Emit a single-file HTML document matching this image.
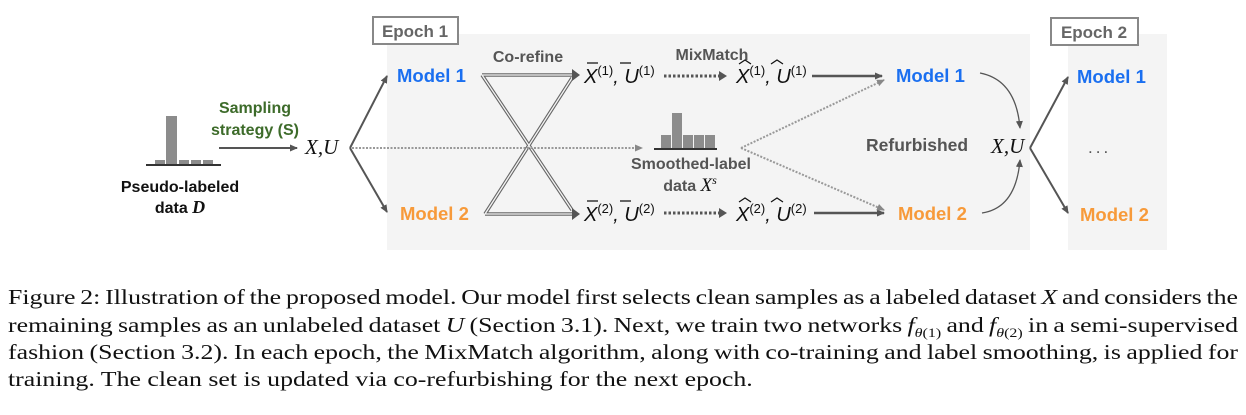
<!DOCTYPE html>
<html><head><meta charset="utf-8"><style>
body{margin:0;width:1246px;height:415px;background:#fff;overflow:hidden;position:relative}
.cap{position:absolute;left:8px;width:1000px;font-family:"Liberation Serif",serif;font-size:21px;line-height:24px;color:#111;white-space:nowrap;transform:scaleX(1.23);transform-origin:0 0}
.j{text-align:justify;text-align-last:justify;word-spacing:-2.5px}
svg text{font-family:"Liberation Sans",sans-serif}
.m{font-family:"Liberation Serif",serif;font-style:italic}
</style></head><body>
<svg width="1246" height="270" style="position:absolute;left:0;top:0">
<defs>
<marker id="a" markerWidth="8" markerHeight="8" refX="7" refY="4" orient="auto" markerUnits="userSpaceOnUse"><path d="M0,0.5 L8,4 L0,7.5z" fill="#555"/></marker>
<marker id="b" markerWidth="8" markerHeight="8" refX="7" refY="4" orient="auto" markerUnits="userSpaceOnUse"><path d="M0,0.5 L8,4 L0,7.5z" fill="#888"/></marker>
</defs>
<rect x="387" y="34" width="643" height="216" fill="#f4f4f4"/>
<rect x="1068" y="34" width="99" height="216" fill="#f4f4f4"/>
<rect x="373" y="17" width="85" height="27" fill="#fff" stroke="#888" stroke-width="2"/>
<text x="415" y="37" font-size="17" font-weight="bold" fill="#666" text-anchor="middle">Epoch 1</text>
<rect x="1051" y="18" width="87" height="27" fill="#fff" stroke="#888" stroke-width="2"/>
<text x="1094" y="38" font-size="17" font-weight="bold" fill="#666" text-anchor="middle">Epoch 2</text>
<g fill="#8c8c8c"><rect x="166" y="116" width="11" height="49"/><rect x="155" y="160" width="10" height="5"/><rect x="179" y="160" width="10" height="5"/><rect x="191" y="160" width="10" height="5"/><rect x="203" y="160" width="10" height="5"/></g>
<line x1="146" y1="165" x2="221" y2="165" stroke="#333" stroke-width="2"/>
<text x="180" y="192" font-size="16" font-weight="bold" fill="#111" text-anchor="middle">Pseudo-labeled</text>
<text x="180" y="213" font-size="16" font-weight="bold" fill="#111" text-anchor="middle">data <tspan class="m" font-size="18">D</tspan></text>
<text x="255" y="113" font-size="16" font-weight="bold" fill="#3d6b2a" text-anchor="middle">Sampling</text>
<text x="255" y="135" font-size="16" font-weight="bold" fill="#3d6b2a" text-anchor="middle">strategy (S)</text>
<line x1="219" y1="148" x2="297" y2="148" stroke="#555" stroke-width="2" marker-end="url(#a)"/>
<text x="305" y="154" font-size="21" class="m" fill="#111">X,U</text>
<g stroke="#555" stroke-width="2" fill="none">
<line x1="350" y1="148" x2="387" y2="76" marker-end="url(#a)"/>
<line x1="350" y1="148" x2="387" y2="212" marker-end="url(#a)"/>
<line x1="1030" y1="148" x2="1068" y2="77" marker-end="url(#a)"/>
<line x1="1030" y1="148" x2="1068" y2="213" marker-end="url(#a)"/>
</g>
<text x="397" y="82" font-size="18.5" font-weight="bold" fill="#1a6ff0">Model 1</text>
<text x="400" y="220" font-size="18.5" font-weight="bold" fill="#f79a3a">Model 2</text>
<text x="1077" y="83" font-size="18.5" font-weight="bold" fill="#1a6ff0">Model 1</text>
<text x="1080" y="221" font-size="18.5" font-weight="bold" fill="#f79a3a">Model 2</text>
<text x="1088" y="153" font-size="17" fill="#555" letter-spacing="3">...</text>
<text x="896" y="82" font-size="18.5" font-weight="bold" fill="#1a6ff0">Model 1</text>
<text x="898" y="220" font-size="18.5" font-weight="bold" fill="#f79a3a">Model 2</text>
<g stroke="#666" stroke-width="3.5" fill="none"><path d="M482,75 L572,75 M482,75 L572,210 M485,214 L572,214 M485,214 L572,78"/></g>
<g stroke="#f4f4f4" stroke-width="1.3" fill="none"><path d="M482,75 L572,75 M482,75 L572,210 M485,214 L572,214 M485,214 L572,78"/></g>
<path d="M572,69 L580,75 L572,81z M572,208 L580,214 L572,220z" fill="#555"/>
<text x="528" y="62" font-size="16" font-weight="bold" fill="#555" text-anchor="middle">Co-refine</text>
<text x="712" y="60" font-size="16" font-weight="bold" fill="#555" text-anchor="middle">MixMatch</text>
<g class="m" font-size="20" fill="#111">
<text x="584" y="83">X<tspan font-size="13" dy="-8" font-style="normal">(1)</tspan><tspan dy="8">, U</tspan><tspan font-size="13" dy="-8" font-style="normal">(1)</tspan></text>
<text x="584" y="221">X<tspan font-size="13" dy="-8" font-style="normal">(2)</tspan><tspan dy="8">, U</tspan><tspan font-size="13" dy="-8" font-style="normal">(2)</tspan></text>
<text x="736" y="83">X<tspan font-size="13" dy="-8" font-style="normal">(1)</tspan><tspan dy="8">, U</tspan><tspan font-size="13" dy="-8" font-style="normal">(1)</tspan></text>
<text x="736" y="221">X<tspan font-size="13" dy="-8" font-style="normal">(2)</tspan><tspan dy="8">, U</tspan><tspan font-size="13" dy="-8" font-style="normal">(2)</tspan></text>
</g>
<g stroke="#111" stroke-width="1.2"><path d="M587,63 h11 M620,63 h11 M587,201 h11 M620,201 h11"/></g>
<g stroke="#111" stroke-width="1.2" fill="none"><path d="M739,64 l6,-4 l6,4 M771,64 l6,-4 l6,4 M739,202 l6,-4 l6,4 M771,202 l6,-4 l6,4"/></g>
<g stroke="#555" stroke-width="3" stroke-dasharray="2.5,2" fill="none">
<line x1="664" y1="76" x2="720" y2="76"/><line x1="664" y1="213" x2="720" y2="213"/></g>
<path d="M719,71 L727,76 L719,81z M719,208 L727,213 L719,218z" fill="#555"/>
<line x1="812" y1="76" x2="882" y2="76" stroke="#555" stroke-width="2.5" marker-end="url(#a)"/>
<line x1="814" y1="213" x2="884" y2="213" stroke="#555" stroke-width="2.5" marker-end="url(#a)"/>
<line x1="352" y1="148" x2="642" y2="148" stroke="#999" stroke-width="2" stroke-dasharray="2,1.5" marker-end="url(#b)"/>
<g fill="#8c8c8c"><rect x="661" y="135" width="10" height="14"/><rect x="672" y="113" width="10" height="36"/><rect x="683" y="135" width="10" height="14"/><rect x="694" y="135" width="10" height="14"/><rect x="705" y="135" width="10" height="14"/></g>
<line x1="654" y1="149" x2="717" y2="149" stroke="#333" stroke-width="2"/>
<text x="691" y="169" font-size="16" font-weight="bold" fill="#555" text-anchor="middle">Smoothed-label</text>
<text x="690" y="191" font-size="16" font-weight="bold" fill="#555" text-anchor="middle">data <tspan class="m" font-size="19" font-weight="normal" fill="#111">X</tspan><tspan class="m" font-size="12" dy="-7" font-weight="normal" fill="#111">s</tspan></text>
<g stroke="#999" stroke-width="2" stroke-dasharray="2,1.5" fill="none">
<line x1="741" y1="148" x2="884" y2="80" marker-end="url(#b)"/>
<line x1="741" y1="148" x2="884" y2="210" marker-end="url(#b)"/></g>
<text x="866" y="151" font-size="17.5" font-weight="bold" fill="#555">Refurbished</text>
<text x="991" y="153" font-size="21" class="m" fill="#111">X,U</text>
<path d="M980,73 Q1016,80 1020,128" stroke="#555" stroke-width="1.3" fill="none" marker-end="url(#a)"/>
<path d="M982,213 Q1016,208 1020,160" stroke="#555" stroke-width="1.3" fill="none" marker-end="url(#a)"/>
</svg>
<div class="cap j" style="top:285px">Figure 2: Illustration of the proposed model. Our model first selects clean samples as a labeled dataset <i>X</i> and considers the</div>
<div class="cap j" style="top:313px">remaining samples as an unlabeled dataset <i>U</i> (Section 3.1). Next, we train two networks <i>f</i><sub style="font-size:13px"><i>θ</i>(1)</sub> and <i>f</i><sub style="font-size:13px"><i>θ</i>(2)</sub> in a semi-supervised</div>
<div class="cap j" style="top:340px">fashion (Section 3.2). In each epoch, the MixMatch algorithm, along with co-training and label smoothing, is applied for</div>
<div class="cap" style="top:367px">training. The clean set is updated via co-refurbishing for the next epoch.</div>
</body></html>
